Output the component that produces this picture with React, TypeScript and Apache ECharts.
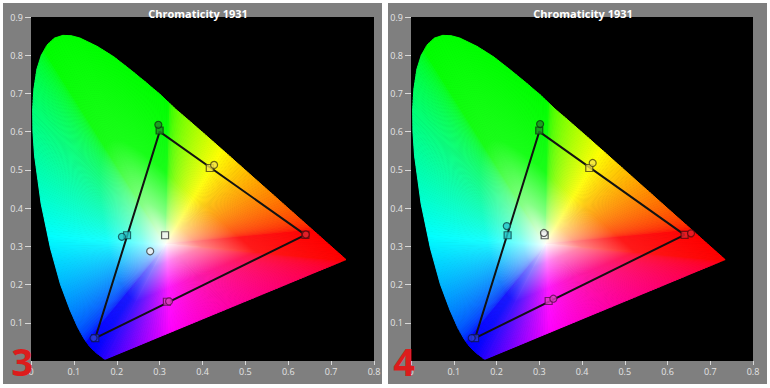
import React, { useEffect, useRef } from "react";
import * as echarts from "echarts";

// Spectral locus (x, y) from 380 nm to 680 nm (read to match the picture), then the line of purples back to the start
const LOCUS_X = [
  0.1741, 0.1714, 0.1689, 0.1644, 0.1566, 0.151, 0.144, 0.1355, 0.1241, 0.1096, 0.0913,
  0.0687, 0.0454, 0.0235, 0.0082, 0.0045, 0.0039, 0.0068, 0.0139, 0.024, 0.0385, 0.055, 0.0743, 0.094, 0.1142, 0.1547, 0.1929,
  0.2296, 0.2658, 0.3016, 0.3373, 0.3731, 0.4087, 0.4441, 0.4788, 0.5125, 0.5448, 0.5752,
  0.6029, 0.627, 0.6482, 0.6658, 0.6801, 0.6915, 0.7006, 0.7079, 0.714, 0.719, 0.723, 0.726,
  0.73, 0.7347,
  0.7, 0.65, 0.6, 0.55, 0.5, 0.45, 0.4, 0.35, 0.3, 0.25, 0.21,
];
const LOCUS_Y = [
  0.005, 0.0051, 0.0069, 0.0109, 0.0177, 0.0227, 0.0297, 0.0399, 0.0578, 0.0868, 0.1327,
  0.2007, 0.295, 0.4127, 0.5384, 0.600, 0.658, 0.712, 0.764, 0.800, 0.828, 0.845, 0.852, 0.851, 0.845, 0.823, 0.796,
  0.764, 0.731, 0.697, 0.6589, 0.6245, 0.5896, 0.5547, 0.5202, 0.4866, 0.4544, 0.4242,
  0.3965, 0.3725, 0.3514, 0.334, 0.3197, 0.3083, 0.2993, 0.292, 0.2859, 0.2809, 0.277, 0.274,
  0.27, 0.2653,
  0.2492, 0.226, 0.2027, 0.1795, 0.1563, 0.1331, 0.1099, 0.0867, 0.0635, 0.0402, 0.0217,
];
const WHITE_POINT = [0.315, 0.305];

// Gamut triangle (R, G, B)
const TRI_X = [0.64, 0.3, 0.15, 0.64];
const TRI_Y = [0.33, 0.6, 0.06, 0.33];

// Marker keys: green, yellow, cyan, white, red, magenta, blue
const KEYS = ["G", "Y", "C", "W", "R", "M", "B"];
const FILL: Record<string, string> = {
  G: "#1f8a24", Y: "#f2e24a", C: "#26c4c8", W: "#f2f2f2", R: "#e4202a", M: "#e03cc4", B: "#2a3ad8",
};
const BORDER: Record<string, string> = {
  G: "#0c3a10", Y: "#4a4410", C: "#0e4a4e", W: "#3a3a3a", R: "#5a0a0e", M: "#5a0e4e", B: "#0e1458",
};

// Panel 3
const P3_SQ_X = [0.3, 0.417, 0.224, 0.3127, 0.64, 0.317, 0.15];
const P3_SQ_Y = [0.603, 0.505, 0.329, 0.329, 0.33, 0.155, 0.06];
const P3_CI_X = [0.297, 0.427, 0.212, 0.278, 0.641, 0.322, 0.146];
const P3_CI_Y = [0.618, 0.513, 0.325, 0.287, 0.331, 0.156, 0.06];
// Panel 4
const P4_SQ_X = [0.3, 0.417, 0.226, 0.3127, 0.64, 0.322, 0.15];
const P4_SQ_Y = [0.603, 0.505, 0.329, 0.329, 0.33, 0.157, 0.06];
const P4_CI_X = [0.302, 0.425, 0.224, 0.311, 0.655, 0.333, 0.142];
const P4_CI_Y = [0.62, 0.518, 0.353, 0.335, 0.334, 0.163, 0.06];

const PANEL_LABELS = ["3", "4"];
const TITLE = "Chromaticity 1931";

function xyToRgb(x: number, y: number): number[] {
  const X = x / y, Y = 1, Z = (1 - x - y) / y;
  let r = 3.2406 * X - 1.5372 * Y - 0.4986 * Z;
  let g = -0.9689 * X + 1.8758 * Y + 0.0415 * Z;
  let b = 0.0557 * X - 0.204 * Y + 1.057 * Z;
  r = Math.max(0, r); g = Math.max(0, g); b = Math.max(0, b);
  if (b > r) r = (r * r) / b; // keep the violet end blue, as in the picture
  const m = Math.max(r, g, b) || 1;
  const gam = (v: number) => {
    v = v / m;
    const s = v <= 0.0031308 ? 12.92 * v : 1.055 * Math.pow(v, 1 / 2.4) - 0.055;
    return Math.round(Math.min(1, Math.max(0, s)) * 255);
  };
  return [gam(r), gam(g), gam(b)];
}
function mix(c: number[], a: number): string {
  const f = (v: number) => Math.round(v * a + 255 * (1 - a));
  return `rgb(${f(c[0])},${f(c[1])},${f(c[2])})`;
}

export default function App() {
  const ref = useRef<HTMLDivElement>(null);
  useEffect(() => {
    if (!ref.current) return;
    const chart = echarts.init(ref.current, undefined, { renderer: "svg" });
    const n = LOCUS_X.length;
    const edges: number[][] = [];
    for (let i = 0; i < n; i++) {
      const j = (i + 1) % n;
      edges.push([LOCUS_X[i], LOCUS_Y[i], LOCUS_X[j], LOCUS_Y[j]]);
    }
    const renderItem = (params: any, api: any) => {
      const x1 = api.value(0), y1 = api.value(1), x2 = api.value(2), y2 = api.value(3);
      const w = api.coord(WHITE_POINT);
      const p1 = api.coord([x1, y1]);
      const p2 = api.coord([x2, y2]);
      const dx = p2[0] - p1[0], dy = p2[1] - p1[1];
      const L = dx * dx + dy * dy;
      if (L < 1e-6) return null;
      const t = ((w[0] - p1[0]) * dx + (w[1] - p1[1]) * dy) / L;
      const f = [p1[0] + t * dx, p1[1] + t * dy];
      const m = Math.max(1, Math.ceil(Math.sqrt(L) / 3));
      const children: any[] = [];
      for (let s = 0; s < m; s++) {
        const a = s / m, b = (s + 1) / m, c = (s + 0.5) / m;
        const rgb = xyToRgb(x1 + (x2 - x1) * c, y1 + (y2 - y1) * c);
        const grad = new echarts.graphic.LinearGradient(w[0], w[1], f[0], f[1], [
          { offset: 0, color: mix(rgb, 0.02) },
          { offset: 0.2, color: mix(rgb, 0.48) },
          { offset: 0.5, color: mix(rgb, 0.9) },
          { offset: 1, color: mix(rgb, 1) },
        ], true);
        children.push({
          type: "polygon",
          shape: { points: [w, [p1[0] + dx * a, p1[1] + dy * a], [p1[0] + dx * b, p1[1] + dy * b]] },
          style: { fill: grad, stroke: grad, lineWidth: 1 },
        });
      }
      return { type: "group", children };
    };
    const grids = [
      { left: 31, top: 17, width: 343, height: 344 },
      { left: 411, top: 17, width: 342, height: 344 },
    ];
    const labelStyle = { color: "#e4e4e4", fontSize: 9, fontFamily: "Open Sans" };
    const xAxis = grids.map((_, k) => ({
      type: "value", gridIndex: k, min: 0, max: 0.8, interval: 0.1,
      axisLine: { show: false }, splitLine: { show: false },
      axisTick: { show: true, length: 4, lineStyle: { color: "#d8d8d8" } },
      axisLabel: { ...labelStyle, margin: 6 },
    }));
    const yAxis = grids.map((_, k) => ({
      type: "value", gridIndex: k, min: 0, max: 0.9, interval: 0.1,
      axisLine: { show: false }, splitLine: { show: false },
      axisTick: { show: true, length: 6, lineStyle: { color: "#d8d8d8" } },
      axisLabel: { ...labelStyle, margin: 8, showMinLabel: false },
    }));
    const sq = [[P3_SQ_X, P3_SQ_Y], [P4_SQ_X, P4_SQ_Y]];
    const ci = [[P3_CI_X, P3_CI_Y], [P4_CI_X, P4_CI_Y]];
    const mk = (xs: number[], ys: number[]) =>
      xs.map((x, i) => ({
        value: [x, ys[i]],
        itemStyle: { color: FILL[KEYS[i]], borderColor: BORDER[KEYS[i]], borderWidth: 1.2 },
      }));
    const series: any[] = [];
    for (let k = 0; k < 2; k++) {
      series.push({
        type: "custom", xAxisIndex: k, yAxisIndex: k, silent: true, z: 1,
        data: edges, renderItem,
      });
      series.push({
        type: "line", xAxisIndex: k, yAxisIndex: k, z: 3, symbol: "none", silent: true,
        data: TRI_X.map((x, i) => [x, TRI_Y[i]]),
        lineStyle: { color: "#121212", width: 2 },
      });
      series.push({
        type: "scatter", xAxisIndex: k, yAxisIndex: k, z: 4, symbol: "rect", symbolSize: 7,
        data: mk(sq[k][0], sq[k][1]), silent: true,
      });
      series.push({
        type: "scatter", xAxisIndex: k, yAxisIndex: k, z: 5, symbol: "circle", symbolSize: 7,
        data: mk(ci[k][0], ci[k][1]), silent: true,
      });
    }
    chart.setOption({
      animation: false,
      backgroundColor: "#ffffff",
      grid: grids.map((g) => ({ ...g, show: true, backgroundColor: "#000000", borderWidth: 0 })),
      xAxis, yAxis, series,
      title: [
        { text: TITLE, left: 193, top: 3, textAlign: "center",
          textStyle: { color: "#ffffff", fontSize: 11, fontWeight: "bold", fontFamily: "Open Sans" } },
        { text: TITLE, left: 578, top: 3, textAlign: "center",
          textStyle: { color: "#ffffff", fontSize: 11, fontWeight: "bold", fontFamily: "Open Sans" } },
      ],
      graphic: [
        { type: "rect", z: -10, shape: { x: 3, y: 3, width: 379, height: 381 }, style: { fill: "#7f7f7f" } },
        { type: "rect", z: -10, shape: { x: 388, y: 3, width: 379, height: 381 }, style: { fill: "#7f7f7f" } },
        { type: "text", z: 100, x: 22, y: 361, style: { text: PANEL_LABELS[0], fill: "#dc1c1c", fontSize: 38, fontWeight: "bold", fontFamily: "Open Sans", textAlign: "center", textVerticalAlign: "middle" } },
        { type: "text", z: 100, x: 404, y: 361, style: { text: PANEL_LABELS[1], fill: "#dc1c1c", fontSize: 38, fontWeight: "bold", fontFamily: "Open Sans", textAlign: "center", textVerticalAlign: "middle" } },
      ],
    });
    return () => chart.dispose();
  }, []);
  return <div ref={ref} style={{ position: "fixed", left: 0, top: 0, width: 770, height: 388 }} />;
}
